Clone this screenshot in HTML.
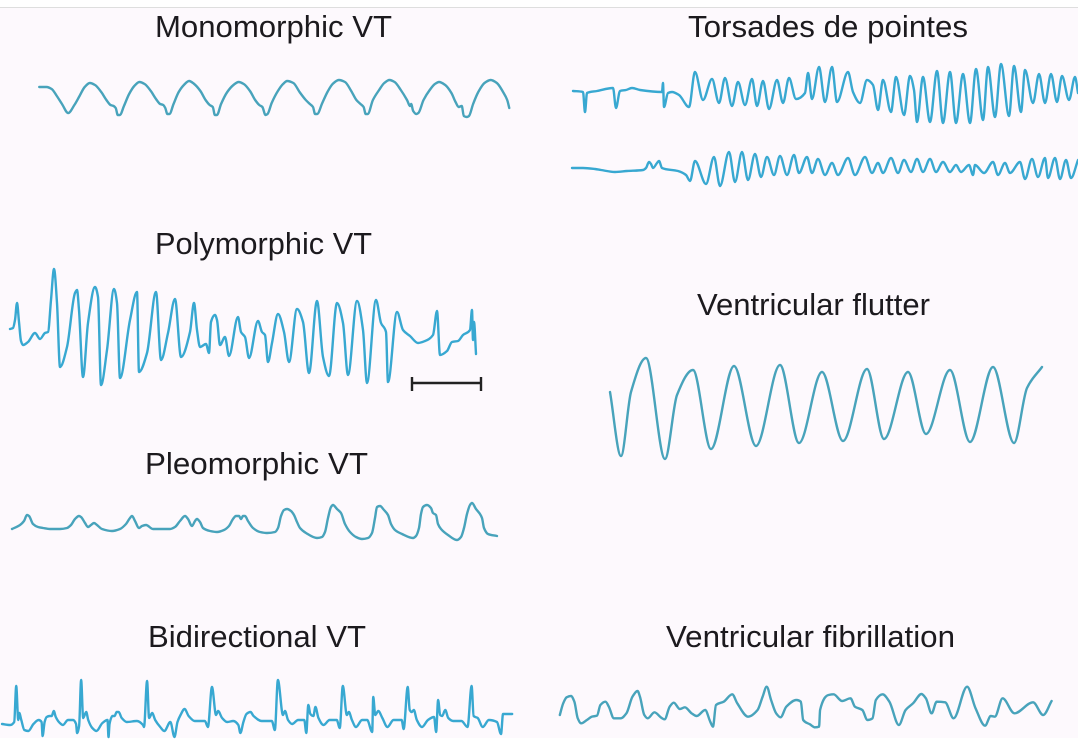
<!DOCTYPE html>
<html><head><meta charset="utf-8"><style>
html,body{margin:0;padding:0;background:#fff;width:1078px;height:746px;overflow:hidden}
svg{display:block;filter:blur(.35px)}
text{font-family:"Liberation Sans",sans-serif;font-size:31px;fill:#1c1a1e}
.t{fill:none;stroke:#48a3bb;stroke-width:2.4;stroke-linejoin:round;stroke-linecap:round;vector-effect:non-scaling-stroke}
.b{fill:none;stroke:#38a8d1;stroke-width:2.4;stroke-linejoin:round;stroke-linecap:round;vector-effect:non-scaling-stroke}
</style></head><body>
<svg width="1078" height="746" viewBox="0 0 1078 746" xmlns="http://www.w3.org/2000/svg">
<rect x="0" y="0" width="1078" height="746" fill="#fff"/>
<rect x="0" y="8" width="1078" height="730" fill="#fdf9fd"/>
<rect x="0" y="7" width="1078" height="1" fill="#dedede"/>

<text x="155" y="37" textLength="237" lengthAdjust="spacingAndGlyphs">Monomorphic VT</text>
<text x="688" y="37" textLength="280" lengthAdjust="spacingAndGlyphs">Torsades de pointes</text>
<text x="155" y="254" textLength="217" lengthAdjust="spacingAndGlyphs">Polymorphic VT</text>
<text x="697" y="315" textLength="233" lengthAdjust="spacingAndGlyphs">Ventricular flutter</text>
<text x="145" y="474" textLength="223" lengthAdjust="spacingAndGlyphs">Pleomorphic VT</text>
<text x="148" y="647" textLength="218" lengthAdjust="spacingAndGlyphs">Bidirectional VT</text>
<text x="666" y="647" textLength="289" lengthAdjust="spacingAndGlyphs">Ventricular fibrillation</text>

<!-- Monomorphic -->
<g transform="scale(1.033,1)">
<polyline class="t" points="38,87 45,87 50,89 55,96 60,104 66,113 72,105 77,96 82,87 87,83 92,85 98,92 103,100 107,105 110,106 112,108 114,115 116,115 120,106 125,94 130,86 135,82 140,84 146,91 151,99 155,104 158,105 160,108 162,114 164,114 168,104 173,92 178,85 183,81 188,84 194,91 199,100 203,105 206,107 208,115 210,115 214,104 220,92 226,85 231,82 236,84 242,91 247,100 251,105 254,107 257,115 259,114 263,103 269,91 274,84 278,81 284,83 290,92 296,100 300,104 303,107 305,114 307,114 312,103 317,92 322,84 328,80 334,82 340,91 345,100 349,104 352,107 354,114 356,114 361,100 367,90 372,83 377,80 382,82 388,90 394,100 397,106 398,104 400,111 403,114 405,113 410,100 416,90 421,84 425,82 431,85 437,93 441,102 444,107 447,106 449,116 452,117 454,116 458,104 463,92 469,83 475,80 481,83 487,92 491,100 493,108"/>
</g>

<!-- Torsades line 1 -->
<polyline class="b" points="573,91 583,92 585,112 587,93 597,91 613,88 616,108 620,91 626,90 632,88 640,90 662,92 663,83 664,107 668,93 672,92 679,95 689,107 695,72 703,100 712,79 719,103 725,78 732,106 738,82 745,105 752,79 757,106 763,81 769,109 777,80 783,103 789,78 796,99 805,93 808,73 812,99 819,67 825,102 832,67 837,102 848,72 853,92 860,103 867,80 873,85 878,110 883,80 891,112 896,77 904,115 910,76 914,90 917,122 923,77 930,122 937,71 943,123 950,72 956,123 963,74 970,123 976,69 983,120 988,67 995,117 1001,64 1009,116 1014,66 1021,112 1025,70 1033,103 1039,74 1045,103 1051,74 1057,102 1062,76 1069,100 1075,77 1078,93"/>

<!-- Torsades line 2 -->
<polyline class="b" points="572,168 583,168 595,169 601,170 615,172 627,171 643,170 646,168 649,162 651,164 653,168 657,163 659,161 662,168 678,171 686,175 690,181 695,161 706,184 714,157 720,186 729,152 735,182 742,152 748,180 755,154 761,177 767,157 774,175 780,156 787,175 794,155 799,173 807,157 812,173 818,159 825,175 832,163 838,175 848,158 855,175 865,157 872,173 878,163 883,173 891,158 898,173 904,160 911,172 917,159 923,172 930,159 936,172 943,162 950,172 956,165 961,172 969,165 973,175 975,165 984,173 993,162 998,175 1005,163 1010,173 1020,162 1025,179 1032,159 1038,177 1045,158 1048,178 1055,158 1060,179 1066,160 1071,178 1078,160"/>

<!-- Polymorphic -->
<polyline class="b" points="10,329 13,328 15,320 17,303 19,322 21,341 23,345 28,342 35,333 40,339 45,333 48,332 51,300 54,269 57,303 60,367 67,347 75,293 77,290 79,310 83,377 88,323 95,287 98,297 101,385 107,350 114,289 117,303 120,378 130,320 137,292 139,372 147,353 156,292 161,360 168,333 175,299 181,357 190,332 194,303 197,330 200,347 206,344 209,353 211,322 215,315 217,320 220,345 225,337 229,356 238,317 241,332 245,337 249,358 258,321 262,332 265,335 268,362 272,343 278,314 284,332 289,362 297,309 303,322 309,373 317,301 323,357 329,376 337,303 343,323 348,375 357,301 363,330 367,383 376,300 381,323 386,332 388,382 397,312 403,330 410,336 418,343 425,341 433,335 437,311 440,355 447,351 452,342 458,341 463,335 470,330 472,310 473,340 474,322 476,354"/>

<!-- Scale bar -->
<path d="M412 383H481M412 377V391M481 377V391" fill="none" stroke="#222" stroke-width="2.4"/>

<!-- Flutter -->
<polyline class="t" points="610,392 621,456 631,392 646,358 665,459 677,395 693,370 711,449 734,366 756,446 780,365 799,443 822,372 843,441 867,369 884,439 908,372 926,434 950,370 970,442 993,367 1014,443 1027,388 1042,367"/>

<!-- Pleomorphic -->
<polyline class="t" points="12,529 20,525 24,521 27,515 29,516 33,524 38,527 43,528 50,529 60,529 67,528 71,525 75,519 79,516 81,517 85,523 88,527 91,525 94,523 97,525 102,529 112,531 120,529 126,524 130,518 132,516 135,521 139,528 142,526 146,525 153,529 162,529 170,529 175,527 180,521 185,516 188,519 192,526 195,521 197,519 200,522 203,528 210,531 217,532 224,530 229,526 233,519 236,516 239,516 241,519 243,516 245,516 248,521 253,528 260,532 267,533 275,532 278,528 281,516 284,510 287,509 291,511 294,515 297,522 300,528 306,533 317,538 322,537 325,532 328,518 331,507 333,505 337,509 341,513 345,524 350,532 356,537 362,539 368,538 372,533 375,518 377,507 380,506 384,510 388,515 391,524 395,530 402,534 413,538 416,536 419,528 421,514 423,507 427,505 431,508 433,513 436,515 438,524 441,529 448,535 457,540 461,537 464,528 467,514 470,505 472,503 476,509 480,514 482,518 484,528 488,534 497,536"/>

<!-- Bidirectional -->
<g transform="scale(1.0142,1)">
<polyline class="b" points="2,724 10,725 14,722 16,686 18,720 19,713 21,720 24,730 28,731 33,724 38,720 41,722 42,736 44,722 46,717 49,716 51,716 53,711 55,717 59,723 62,725 67,720 72,720 75,724 76,733 78,726 80,680 82,718 85,712 87,720 91,728 95,731 101,723 106,720 107,737 108,724 111,716 113,716 115,712 117,712 120,718 125,722 135,721 141,725 142,727 145,681 147,718 150,713 153,720 158,727 162,731 168,722 172,737 175,722 178,715 182,709 186,716 192,721 202,721 205,727 209,687 213,715 215,711 219,718 224,722 230,721 235,725 237,733 240,722 243,714 247,712 250,716 258,721 268,721 271,730 274,680 279,715 281,711 284,720 288,724 294,720 300,720 302,733 304,705 306,714 309,716 311,707 314,718 319,725 325,720 332,720 335,728 338,686 342,715 344,712 347,720 351,727 357,720 362,720 367,732 368,697 370,715 373,711 377,718 382,727 388,720 396,720 398,729 402,687 404,710 406,712 408,710 411,720 416,727 422,720 428,717 430,732 432,700 434,715 436,716 439,710 442,718 447,721 455,721 461,727 465,686 467,716 471,718 476,727 482,720 490,722 494,734 496,714 498,714 505,714"/>
</g>

<!-- Fibrillation -->
<g transform="translate(548,670) scale(.338,.3333)">
<polyline class="t" points="35,135 45,100 55,82 68,78 78,95 88,145 98,160 115,150 130,140 145,137 155,105 170,95 180,110 195,145 215,145 232,130 250,80 265,63 272,80 285,135 295,145 315,127 335,143 345,148 360,110 372,98 390,117 405,112 425,130 440,138 465,120 480,155 488,170 497,105 520,95 545,73 560,100 592,140 620,120 635,80 647,50 660,90 675,130 688,142 705,110 735,90 748,95 755,150 775,163 790,172 802,170 805,120 830,75 845,73 870,93 895,85 908,110 930,120 945,150 960,145 970,90 990,73 1010,95 1038,165 1058,120 1080,100 1105,72 1118,85 1135,130 1150,95 1175,97 1200,145 1240,50 1265,115 1293,167 1310,138 1322,140 1345,85 1380,130 1435,97 1465,135 1490,93"/>
</g>
</svg>
<script>
document.querySelectorAll('polyline').forEach(function(pl){
  var a=pl.getAttribute('points').trim().split(/\s+/).map(function(s){return s.split(',').map(Number)});
  var n=a.length,h=[],s=[],m=[],i;
  for(i=0;i<n-1;i++){h[i]=a[i+1][0]-a[i][0];s[i]=(a[i+1][1]-a[i][1])/h[i]}
  m[0]=s[0];m[n-1]=s[n-2];
  for(i=1;i<n-1;i++){
    if(s[i-1]*s[i]<=0)m[i]=0;
    else m[i]=3*(h[i-1]+h[i])/((2*h[i]+h[i-1])/s[i-1]+(h[i]+2*h[i-1])/s[i]);
  }
  var d='M'+a[0][0]+' '+a[0][1];
  for(i=0;i<n-1;i++){
    var k=h[i]/3;
    d+='C'+(a[i][0]+k).toFixed(2)+' '+(a[i][1]+m[i]*k).toFixed(2)+' '+(a[i+1][0]-k).toFixed(2)+' '+(a[i+1][1]-m[i+1]*k).toFixed(2)+' '+a[i+1][0]+' '+a[i+1][1];
  }
  var p=document.createElementNS('http://www.w3.org/2000/svg','path');
  p.setAttribute('class',pl.getAttribute('class'));
  p.setAttribute('d',d);
  pl.parentNode.replaceChild(p,pl);
});
</script>
</body></html>
